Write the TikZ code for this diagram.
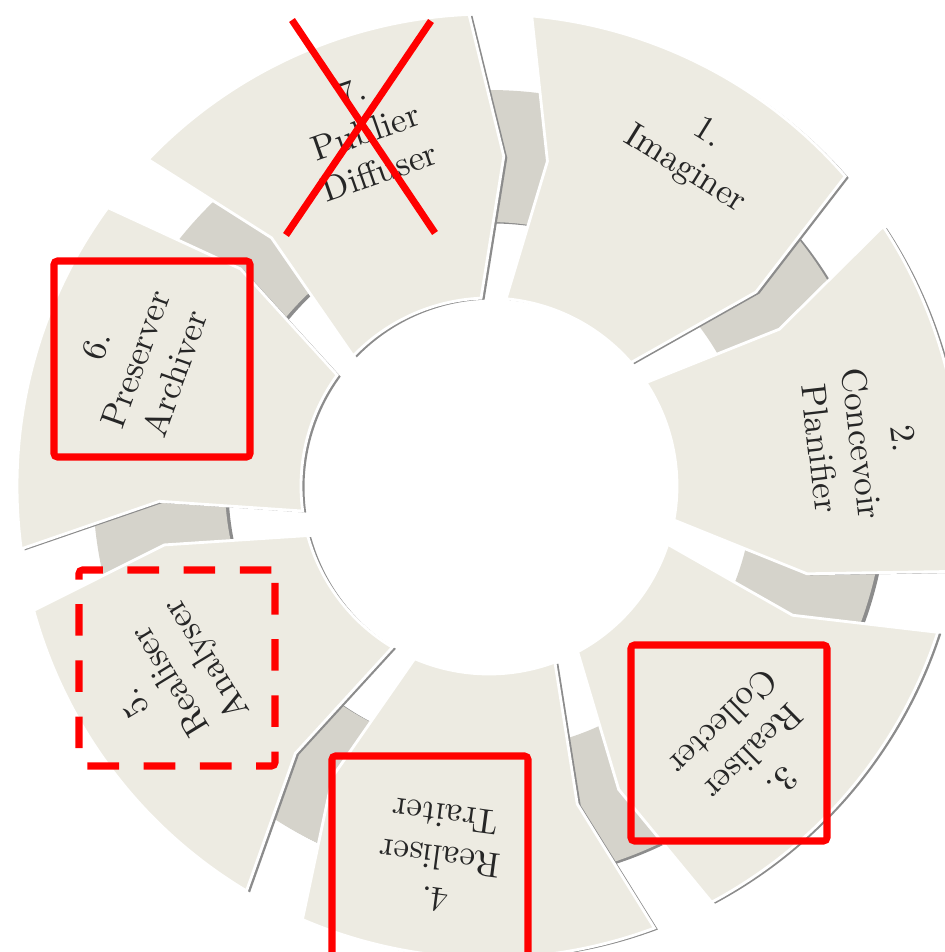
\documentclass[tikz,border=0pt]{standalone}
\usepackage{amsmath}
\usepackage{tikz}
\definecolor{sand}{HTML}{EDEBE2}
\definecolor{stone}{HTML}{D5D3CB}

\begin{document}
\begin{tikzpicture}[seg/.style={fill=sand,draw=white,line width=0.8pt},
  segshadow/.style={fill=black!45,xshift=0.035cm,yshift=-0.015cm},
  lab/.style={align=center,text=black!85,inner sep=0pt,anchor=north},
  redbox/.style={draw=red,line width=2pt,rounded corners=1pt,inner sep=0pt,minimum width=1.96cm,minimum height=1.96cm},
  redline/.style={draw=red,line width=2pt}]
\useasboundingbox (-4.89,-4.66) rectangle (4.56,4.86);
\fill[black!45,even odd rule,shift={(0.035,-0.015)}] (0,0) circle (3.96) (0,0) circle (2.64);
\fill[stone,even odd rule] (0,0) circle (3.96) (0,0) circle (2.64);
\foreach \k in {1,...,7}{
  \pgfmathsetmacro\s{84.8-51.4286*(\k-1)}
  \pgfmathsetmacro\e{\s-43.8}
  \foreach \st in {segshadow,seg}
    \path[\st] (\s:4.72) arc[start angle=\s,end angle=\e,radius=4.72] -- ({\e-5}:3.3)
      -- (\e:1.88) arc[start angle=\e,end angle=\s,radius=1.88] -- ({\s-5}:3.3) -- cycle;
}
\foreach \k/\a/\t in {1/58.2/{1.\\Imaginer},2/6.5/{2.\\Concevoir\\Planifier},3/-45.3/{3.\\Realiser\\Collecter},
  4/-97.5/{4.\\Realiser\\Traiter},5/-148.5/{5.\\Realiser\\Analyser},6/160.3/{6.\\Preserver\\Archiver},7/109.2/{7.\\Publier\\Diffuser}}
  \node[lab,rotate=\a-90] (t\k) at (\a:4.3) {\t};
\node[redbox] (b6) at (-3.37,1.27) {};
\node[redbox,dash pattern=on 9pt off 7pt] (b5) at (-3.12,-1.82) {};
\node[redbox] (b3) at (2.40,-2.57) {};
\node[redbox,minimum height=2cm] (b4) at (-0.59,-3.70) {};
\coordinate (c1) at (-1.97,4.66);
\coordinate (c2) at (-0.54,2.53);
\coordinate (c3) at (-0.58,4.65);
\coordinate (c4) at (-2.03,2.51);
\draw[redline] (c1) -- (c2);
\draw[redline] (c3) -- (c4);
\end{tikzpicture}
\end{document}
